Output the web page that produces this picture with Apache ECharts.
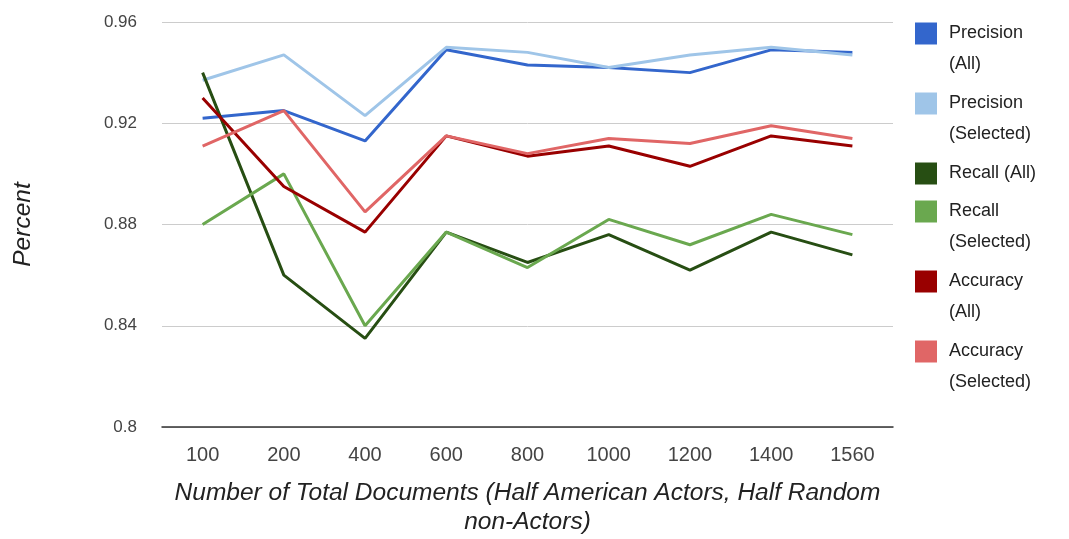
<!DOCTYPE html>
<html>
<head>
<meta charset="utf-8">
<script src="https://cdn.jsdelivr.net/npm/echarts@6/dist/echarts.min.js"></script>
<style>
    html, body { margin: 0; padding: 0; background: #fff; }
    #chart { width: 1069px; height: 539px; }
</style>
</head>
<body>
<div id="chart"></div>
<script>
// document counts on the x axis
const categories = ['100', '200', '400', '600', '800', '1000', '1200', '1400', '1560'];

const precisionAll = [0.922, 0.925, 0.913, 0.949, 0.943, 0.942, 0.940, 0.949, 0.948];
const precisionSelected = [0.937, 0.947, 0.923, 0.950, 0.948, 0.942, 0.947, 0.950, 0.947];
const recallAll = [0.940, 0.860, 0.835, 0.877, 0.865, 0.876, 0.862, 0.877, 0.868];
const recallSelected = [0.880, 0.900, 0.840, 0.877, 0.863, 0.882, 0.872, 0.884, 0.876];
const accuracyAll = [0.930, 0.895, 0.877, 0.915, 0.907, 0.911, 0.903, 0.915, 0.911];
const accuracySelected = [0.911, 0.925, 0.885, 0.915, 0.908, 0.914, 0.912, 0.919, 0.914];

const seriesNames = [
    'Precision\n(All)',
    'Precision\n(Selected)',
    'Recall (All)',
    'Recall\n(Selected)',
    'Accuracy\n(All)',
    'Accuracy\n(Selected)'
];
const seriesColors = ['#3366cc', '#9fc5e8', '#274e13', '#6aa84f', '#990000', '#e06666'];
const seriesData = [precisionAll, precisionSelected, recallAll, recallSelected, accuracyAll, accuracySelected];

const font = 'Liberation Sans, Arial, sans-serif';

const chart = echarts.init(document.getElementById('chart'));

// legend text is centred on the icon, so pad every name to three lines
// (blank line on top) to keep the icon beside the first line
function legendBox(names, top) {
    return {
        orient: 'vertical',
        left: 915,
        top: top,
        padding: 0,
        itemWidth: 22,
        itemHeight: 22,
        itemGap: -23,
        icon: 'rect',
        selectedMode: false,
        formatter: name => {
            return name.indexOf('\n') >= 0 ? '\n' + name : '\n' + name + '\n';
        },
        textStyle: {
            fontFamily: font,
            fontSize: 18,
            color: '#222',
            lineHeight: 31,
            padding: [0, 0, 0, 7]
        },
        data: names
    };
}

chart.setOption({
    animation: false,
    color: seriesColors,
    grid: {
        left: 162,
        right: 176,
        top: 22,
        bottom: 112,
        outerBoundsMode: 'none'
    },
    legend: [
        legendBox(seriesNames.slice(0, 3), -13),
        legendBox(seriesNames.slice(3), 165)
    ],
    xAxis: {
        type: 'category',
        data: categories,
        boundaryGap: true,
        name: 'Number of Total Documents (Half American Actors, Half Random\nnon-Actors)',
        nameLocation: 'middle',
        nameGap: 52,
        nameTextStyle: {
            fontFamily: font,
            fontSize: 24.5,
            fontStyle: 'italic',
            color: '#222',
            lineHeight: 29
        },
        axisLine: {
            show: true,
            lineStyle: {
                color: '#333',
                width: 1.5
            }
        },
        axisTick: {
            show: false
        },
        axisLabel: {
            fontFamily: font,
            fontSize: 20,
            color: '#444',
            margin: 18
        }
    },
    yAxis: {
        type: 'value',
        min: 0.8,
        max: 0.96,
        interval: 0.04,
        name: 'Percent',
        nameLocation: 'middle',
        nameGap: 126,
        nameTextStyle: {
            fontFamily: font,
            fontSize: 24.5,
            fontStyle: 'italic',
            color: '#222'
        },
        axisLine: {
            show: false
        },
        axisTick: {
            show: false
        },
        axisLabel: {
            fontFamily: font,
            fontSize: 17,
            color: '#444',
            margin: 25
        },
        splitLine: {
            lineStyle: {
                color: '#cccccc',
                width: 1
            }
        }
    },
    series: seriesNames.map((name, i) => {
        return {
            name: name,
            type: 'line',
            data: seriesData[i],
            showSymbol: false,
            symbol: 'none',
            lineStyle: {
                width: 3,
                color: seriesColors[i]
            },
            itemStyle: {
                color: seriesColors[i]
            }
        };
    })
});
</script>
</body>
</html>
